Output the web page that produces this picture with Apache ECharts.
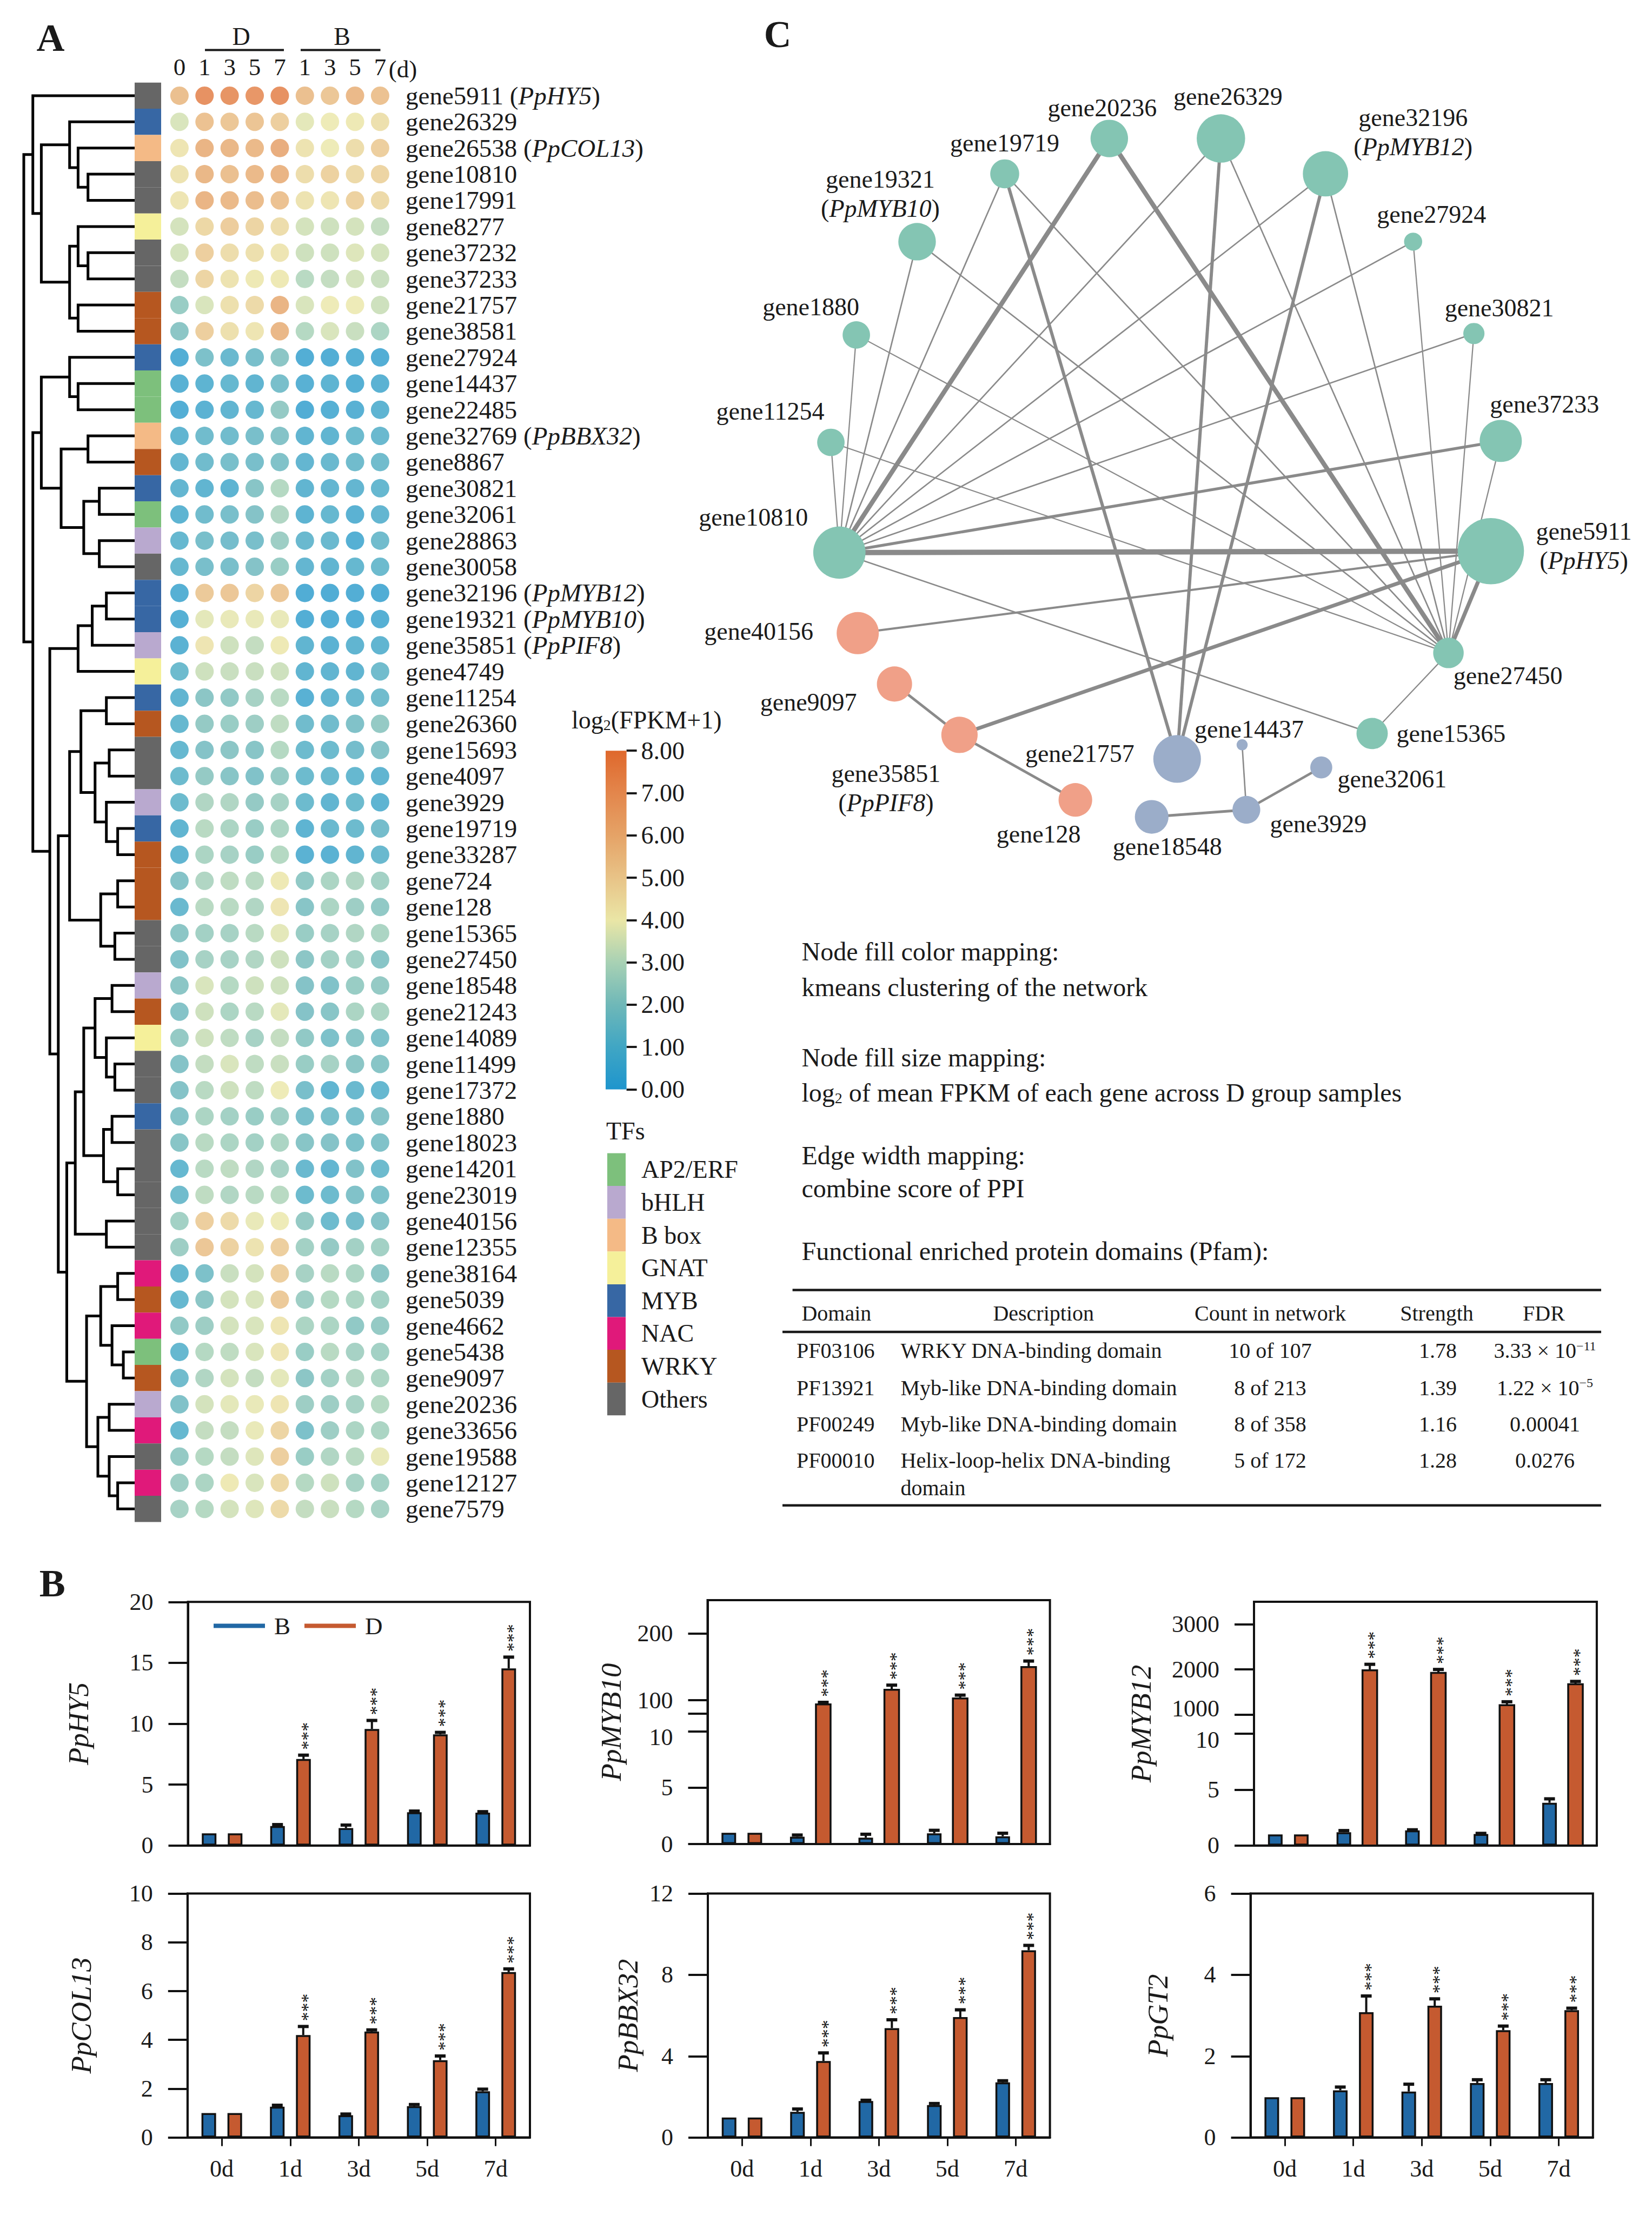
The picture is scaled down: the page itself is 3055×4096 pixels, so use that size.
<!DOCTYPE html>
<html><head><meta charset="utf-8">
<script src="https://cdn.jsdelivr.net/npm/echarts@6.0.0/dist/echarts.min.js"></script>
<style>html,body{margin:0;padding:0;background:#fff;}#chart{width:3055px;height:4096px;}</style>
</head><body><div id="chart"></div>
<script>
// ================= DATA =================
const genes = ['gene5911','gene26329','gene26538','gene10810','gene17991','gene8277','gene37232','gene37233','gene21757','gene38581','gene27924','gene14437','gene22485','gene32769','gene8867','gene30821','gene32061','gene28863','gene30058','gene32196','gene19321','gene35851','gene4749','gene11254','gene26360','gene15693','gene4097','gene3929','gene19719','gene33287','gene724','gene128','gene15365','gene27450','gene18548','gene21243','gene14089','gene11499','gene17372','gene1880','gene18023','gene14201','gene23019','gene40156','gene12355','gene38164','gene5039','gene4662','gene5438','gene9097','gene20236','gene33656','gene19588','gene12127','gene7579'];
const geneAlias = {gene5911:'PpHY5', gene26538:'PpCOL13', gene32769:'PpBBX32', gene32196:'PpMYB12', gene19321:'PpMYB10', gene35851:'PpPIF8'};
const sampleLabels = ['0','1','3','5','7','1','3','5','7'];
// log2(FPKM+1): columns 0d, D1, D3, D5, D7, B1, B3, B5, B7
const expr = [
[5.6,7.5,7.4,7.3,7.5,5.6,5.3,5.8,5.5],
[3.6,5.5,5.3,5.4,5.0,3.8,4.0,4.1,4.4],
[4.2,6.0,5.9,5.8,6.3,4.3,4.0,4.5,5.0],
[4.3,5.9,5.6,5.8,6.0,4.5,4.9,4.6,4.8],
[4.2,6.0,5.8,5.7,5.5,4.3,4.2,4.9,4.6],
[3.5,4.7,5.1,4.8,4.5,3.5,3.4,3.5,3.2],
[3.5,5.0,4.5,4.4,4.2,3.4,3.4,3.7,3.5],
[3.2,4.8,4.3,4.1,4.1,3.0,3.2,3.5,3.3],
[2.3,3.6,4.4,4.6,6.0,3.6,4.0,4.0,3.4],
[2.0,5.0,4.4,4.2,5.9,2.9,3.6,3.3,2.7],
[0.3,1.6,1.1,1.5,2.0,0.3,0.3,0.4,0.3],
[0.5,0.7,1.0,0.8,1.5,0.5,0.7,0.4,0.6],
[0.3,0.6,0.8,1.0,2.2,0.2,0.4,0.5,0.7],
[0.8,1.3,1.3,1.5,1.8,0.8,0.8,1.2,1.1],
[0.9,1.3,1.5,1.5,1.7,0.9,1.1,1.3,1.3],
[0.9,0.8,0.7,1.9,2.9,0.8,0.9,0.9,1.0],
[0.7,1.3,1.5,1.8,2.8,0.7,1.0,0.6,0.9],
[1.0,1.5,1.4,1.5,2.4,1.1,1.1,0.4,1.3],
[1.0,1.5,1.5,1.8,2.3,0.9,0.8,1.0,1.2],
[0.4,5.2,5.3,4.8,5.3,0.2,0.2,0.3,0.2],
[0.4,3.8,3.9,3.9,3.9,0.3,0.3,0.3,0.4],
[0.6,4.2,3.4,3.2,4.1,0.8,0.6,0.8,0.8],
[1.2,3.4,3.3,3.3,3.4,0.8,0.8,0.8,1.3],
[0.8,2.0,2.1,2.6,3.0,0.5,0.8,1.1,1.3],
[1.0,2.2,2.3,2.4,3.1,1.3,1.3,1.7,2.2],
[1.0,1.8,2.0,1.9,2.9,1.2,1.2,1.4,1.8],
[1.2,2.2,1.9,1.7,2.2,1.2,1.1,1.0,0.8],
[1.2,2.8,2.8,2.2,2.6,1.2,0.8,1.2,0.7],
[0.8,3.0,2.7,2.3,2.7,0.7,1.1,1.2,1.4],
[0.8,2.7,2.6,2.3,2.9,0.6,0.6,0.8,1.1],
[1.8,2.8,3.1,3.0,4.1,2.1,2.7,2.8,2.5],
[1.1,3.0,3.0,2.8,4.2,1.9,2.7,2.4,2.1],
[2.0,2.5,2.6,3.0,3.8,2.3,2.6,2.8,2.7],
[1.7,2.6,2.6,2.8,3.4,2.0,2.5,2.5,1.9],
[2.0,3.6,2.9,3.4,3.4,1.8,1.7,2.3,2.2],
[1.8,3.4,2.7,3.0,3.8,1.8,1.9,2.7,2.7],
[2.2,3.4,3.1,2.6,3.2,2.1,1.6,1.9,1.6],
[1.8,3.2,3.6,3.1,3.3,2.3,2.6,2.0,1.9],
[1.8,3.0,3.4,3.1,4.0,1.5,0.8,1.1,1.0],
[1.8,2.7,2.5,2.3,2.4,1.5,1.5,1.5,1.8],
[1.9,3.0,2.7,2.5,2.7,1.9,1.8,1.6,1.7],
[1.0,3.0,3.1,2.8,2.6,1.1,0.9,1.7,1.2],
[1.3,3.1,2.8,3.0,3.0,1.2,1.2,1.7,1.6],
[2.5,5.0,4.6,3.9,4.0,2.2,1.2,1.4,1.8],
[2.4,5.3,4.9,4.3,5.0,2.5,2.2,2.5,2.5],
[1.0,1.6,3.3,3.5,5.0,2.6,3.0,2.7,2.0],
[1.0,2.0,3.5,3.6,5.2,2.4,2.9,2.7,2.5],
[2.1,2.4,3.5,3.6,4.2,2.7,2.7,2.1,2.2],
[1.0,2.9,3.1,3.6,4.2,2.3,3.0,2.6,2.5],
[1.3,2.8,3.5,3.2,3.8,2.0,2.5,2.8,2.7],
[1.7,3.5,3.8,3.9,4.2,2.4,2.4,2.6,2.9],
[1.0,3.2,3.2,3.9,4.8,1.6,2.4,2.7,2.7],
[2.2,2.9,3.2,3.7,5.0,2.3,2.8,3.0,3.9],
[2.4,2.7,4.1,3.6,4.7,2.9,3.4,2.6,2.5],
[2.6,2.9,3.5,3.7,4.6,3.2,3.3,2.9,2.6]
];
const tfNames = ['AP2/ERF','bHLH','B box','GNAT','MYB','NAC','WRKY','Others'];
const tfClass = [7,4,2,7,7,3,7,7,6,6,4,0,0,2,6,4,0,1,7,4,4,1,3,4,6,7,7,1,4,6,6,6,7,7,1,6,3,7,7,4,7,7,7,7,7,5,6,5,0,6,1,5,7,5,7];
// hierarchical clustering: [left, right, mergeHeight], leaves = row index
const treeA = [0, [[1, [2, [3, 4, 33], 40], 46], [[5, [6, 7, 33], 40], [8, 9, 40], 46], 66], 72];
const treeB = [[10, [11, 12, 40], 46], [[13, 14, 33], [[15, 16, 25], [17, 18, 25], 36], 52], 66];
const treeC1 = [[[19, 20, 20], 21, 30], 22, 40];
const treeC2 = [[[[23, 24, 20], [[25, 26, 18], [27, [28, 29, 12], 20], 28], 38], [[30, 31, 12], [32, 33, 14], 24], 46],
  [[[[[34, 35, 16], [36, [37, 38, 14], 20], 28], [[39, 40, 16], [41, 42, 12], 22], 36], [43, 44, 20], 42],
   [[[45, 46, 12], [47, [48, 49, 8], 16], 24], [[50, 51, 18], [52, [53, 54, 12], 18], 26], 34], 48], 54];
const tree = [treeA, [treeB, [treeC1, treeC2, 60], 72], 78.4];

// qRT-PCR relative expression (B)
const days = ['0d','1d','3d','5d','7d'];
const hy5B = [1.0,1.6,1.43,2.73,2.7],      hy5BErr = [0,0.12,0.25,0.1,0.08];
const hy5D = [1.0,7.1,9.57,9.13,14.54],    hy5DErr = [0,0.32,0.7,0.16,0.93];
const myb10B = [1.0,0.65,0.57,0.95,0.69],  myb10BErr = [0,0.15,0.3,0.27,0.27];
const myb10D = [1.0,93.8,115.6,102.6,149.7], myb10DErr = [0,3,7,5,9];
const myb12B = [1.0,1.19,1.36,1.03,3.83],  myb12BErr = [0,0.15,0.05,0.06,0.35];
const myb12D = [1.0,1981,1924,1208,1673],  myb12DErr = [0,133,76,76,62];
const col13B = [1.0,1.26,0.91,1.28,1.89],  col13BErr = [0,0.06,0.05,0.07,0.09];
const col13D = [1.0,4.2,4.34,3.17,6.78],   col13DErr = [0,0.35,0.07,0.17,0.13];
const bbx32B = [0.98,1.26,1.79,1.59,2.71], bbx32BErr = [0,0.14,0.04,0.08,0.08];
const bbx32D = [0.98,3.76,5.38,5.92,9.21], bbx32DErr = [0,0.4,0.41,0.36,0.24];
const gt2B = [0.99,1.16,1.13,1.34,1.34],   gt2BErr = [0,0.08,0.18,0.08,0.08];
const gt2D = [0.99,3.08,3.24,2.64,3.13],   gt2DErr = [0,0.4,0.17,0.1,0.05];
const sigD = ['', '***', '***', '***', '***'];

// PPI network (C)
const netNodes = ['gene20236','gene26329','gene32196','gene19719','gene19321','gene27924','gene1880','gene30821','gene11254','gene37233','gene10810','gene5911','gene40156','gene27450','gene9097','gene35851','gene15365','gene21757','gene14437','gene32061','gene128','gene18548','gene3929'];
const netCluster = [0,0,0,0,0,0,0,0,0,0,0,0,1,0,1,1,0,2,2,2,1,2,2];
const netLog2Mean = [4.1,5.5,5.1,3.0,4.1,1.6,2.8,2.0,2.8,4.7,6.0,7.8,4.7,3.2,3.8,3.95,3.3,5.4,0.7,2.1,3.6,3.6,2.85];
const netEdges = [
['gene10810','gene5911',1.0],['gene10810','gene20236',0.9],['gene20236','gene27450',0.9],
['gene5911','gene27450',0.8],['gene5911','gene35851',0.78],
['gene26329','gene21757',0.7],['gene32196','gene21757',0.7],['gene19719','gene21757',0.7],
['gene10810','gene37233',0.66],['gene5911','gene40156',0.55],
['gene9097','gene35851',0.62],['gene35851','gene128',0.62],['gene18548','gene3929',0.62],['gene3929','gene32061',0.6],['gene3929','gene14437',0.45],
['gene10810','gene11254',0.42],['gene10810','gene1880',0.42],['gene10810','gene19321',0.45],['gene10810','gene19719',0.45],
['gene10810','gene26329',0.45],['gene10810','gene32196',0.45],['gene10810','gene27924',0.45],['gene10810','gene30821',0.45],['gene10810','gene15365',0.45],
['gene27450','gene19321',0.45],['gene27450','gene19719',0.45],['gene27450','gene1880',0.42],['gene27450','gene11254',0.42],
['gene27450','gene26329',0.45],['gene27450','gene32196',0.45],['gene27450','gene27924',0.42],['gene27450','gene30821',0.42],
['gene27450','gene37233',0.42],['gene27450','gene15365',0.42]
];
const notes = ['Node fill color mapping:','kmeans clustering of the network','Node fill size mapping:','log{sub|2} of mean FPKM of each gene across D group samples','Edge width mapping:','combine score of PPI','Functional enriched protein domains (Pfam):'];
const pfamHeader = ['Domain','Description','Count in network','Strength','FDR'];
const pfamId = ['PF03106','PF13921','PF00249','PF00010'];
const pfamDesc = ['WRKY DNA-binding domain','Myb-like DNA-binding domain','Myb-like DNA-binding domain','Helix-loop-helix DNA-binding\ndomain'];
const pfamCount = ['10 of 107','8 of 213','8 of 358','5 of 172'];
const pfamStrength = ['1.78','1.39','1.16','1.28'];
const pfamFDR = ['3.33 × 10{sup|−11}','1.22 × 10{sup|−5}','0.00041','0.0276'];

// ================= STYLE / LAYOUT =================
const FF = 'Liberation Serif';
const INK = '#1a1a1a';
const heatStops = ['#1e95cd','#40a6c4','#6fb8b8','#a8d1b4','#eae6a6','#e8c387','#e5a367','#e3864c','#df682c'];
const tfColors = ['#7dc07c','#b9a9cf','#f4ba86','#f5f09a','#3767a4','#e0197a','#b65720','#666666'];
const clusterColors = ['#84c5b3','#f0a088','#9badc9'];
const BLUE = '#2168a5', ORANGE = '#c55a30';
const netPos = [[785,98],[864,98],[938,123],[711,123],[649,171],[1000,171],[606,237],[1043,236],[588,313],[1062,312],[594,391],[1055,390],[607,448],[1025,462],[633,484],[679,520],[971,519],[833,537],[879,527],[935,543],[761,566],[815,578],[882,573]];
const netLabelOffset = [[-13,-57],[13,-78],[162,-77],[0,-57],[-68,-88],[34,-50],[-84,-52],[47,-47],[-112,-57],[81,-68],[-159,-65],[172,-10],[-183,-3],[110,42],[-159,34],[-136,99],[146,0],[-180,-10],[13,-29],[131,21],[-68,63],[29,55],[133,26]];

const option = {backgroundColor:'#fff', animation:false, textStyle:{fontFamily:FF, color:INK},
  grid:[], xAxis:[], yAxis:[], series:[], graphic:[], visualMap:[]};
function addGrid(g){ option.grid.push(Object.assign({show:false, outerBoundsMode:'none'}, g)); return option.grid.length-1; }
function addX(a){ option.xAxis.push(a); return option.xAxis.length-1; }
function addY(a){ option.yAxis.push(a); return option.yAxis.length-1; }
function addS(s){ option.series.push(s); return option.series.length-1; }
function txt(x, y, text, o){ o = o||{};
  option.graphic.push({type:'text', x, y, silent:true, style:{text, fill:INK, fontFamily:FF, fontSize:o.size||44, fontWeight:o.weight||'normal',
    align:o.align||'left', verticalAlign:o.va||'middle', rich:o.rich}});
}
function line(x1,y1,x2,y2,w){ option.graphic.push({type:'line', silent:true, shape:{x1,y1,x2,y2}, style:{stroke:INK, lineWidth:w}}); }

// ---------- Panel A : heat dot map ----------
const HT = 152.7, HH = 2661.8;
const gHeat = addGrid({left:308.7, top:HT, width:417.4, height:HH});
const hx = addX({type:'category', gridIndex:gHeat, data:sampleLabels, position:'top', axisLine:{show:false}, axisTick:{show:false},
  axisLabel:{fontSize:45, fontFamily:FF, color:INK, margin:6, interval:0}});
const hy = addY({type:'category', gridIndex:gHeat, data:genes, inverse:true, position:'right', axisLine:{show:false}, axisTick:{show:false},
  axisLabel:{fontSize:47, fontFamily:FF, color:INK, margin:24, interval:0, formatter:g => geneAlias[g] ? g+' ({i|'+geneAlias[g]+'})' : g,
    rich:{i:{fontStyle:'italic', fontSize:47, fontFamily:FF, color:INK}}}});
const heatData = [];
expr.forEach((row,i)=>row.forEach((v,j)=>heatData.push([j,i,v])));
const heatIdx = addS({type:'scatter', xAxisIndex:hx, yAxisIndex:hy, symbolSize:34, data:heatData, silent:true});
option.visualMap.push({type:'continuous', show:false, min:0, max:8, dimension:2, seriesIndex:heatIdx, inRange:{color:heatStops}});

// TF class strip
const gTF = addGrid({left:249, top:HT, width:49, height:HH});
const tx = addX({type:'value', gridIndex:gTF, min:0, max:1, show:false});
const ty = addY({type:'category', gridIndex:gTF, data:genes, inverse:true, show:false});
addS({type:'bar', xAxisIndex:tx, yAxisIndex:ty, barWidth:'100%', silent:true,
  data: tfClass.map(c=>({value:1, itemStyle:{color:tfColors[c]}}))});

// dendrogram
const dendroSegs = [];
function walk(n){ if (typeof n === 'number') return {y:n, h:0};
  const a = walk(n[0]), b = walk(n[1]), h = n[2];
  dendroSegs.push({coords:[[a.h,a.y],[h,a.y],[h,b.y],[b.h,b.y]]});
  return {y:(a.y+b.y)/2, h}; }
walk(tree);
const gDen = addGrid({left:44, top:HT, width:205, height:HH});
const dx = addX({type:'value', gridIndex:gDen, min:0, max:78.4, inverse:true, show:false});
const dy = addY({type:'value', gridIndex:gDen, min:-0.5, max:genes.length-0.5, inverse:true, show:false});
addS({type:'lines', coordinateSystem:'cartesian2d', xAxisIndex:dx, yAxisIndex:dy, polyline:true, silent:true,
  data:dendroSegs, lineStyle:{color:'#000', width:5, opacity:1}});

// color bar
const gCB = addGrid({left:1120, top:1388.2, width:38.6, height:626.3});
const cbx = addX({type:'category', gridIndex:gCB, data:['c'], show:false});
const cby = addY({type:'value', gridIndex:gCB, min:0, max:8, interval:1, position:'right', axisLine:{show:false},
  axisTick:{show:true, length:19, lineStyle:{color:INK, width:4}}, splitLine:{show:false},
  axisLabel:{fontSize:46, fontFamily:FF, color:INK, margin:27, formatter:v=>v.toFixed(2)}});
addS({type:'bar', xAxisIndex:cbx, yAxisIndex:cby, barWidth:'100%', silent:true, data:[8],
  itemStyle:{color:new echarts.graphic.LinearGradient(0,1,0,0, heatStops.map((c,i)=>({offset:i/(heatStops.length-1), color:c})))}});
txt(1057, 1331, 'log{sub|2}(FPKM+1)', {size:46, rich:{sub:{fontSize:28, fontFamily:FF, fill:INK, verticalAlign:'bottom', padding:[14,0,0,0]}}});
txt(1121, 2091, 'TFs', {size:46});
tfNames.forEach((n,i)=>{
  option.graphic.push({type:'rect', silent:true, shape:{x:1123, y:2132.5+i*60.6, width:34, height:60.6}, style:{fill:tfColors[i]}});
  txt(1186, 2132.5+i*60.6+30.3, n, {size:46});
});
// column group headers
txt(446, 67, 'D', {size:46, align:'center'}); line(379, 92.5, 525, 92.5, 4);
txt(632.6, 67, 'B', {size:46, align:'center'}); line(556, 92.5, 703.5, 92.5, 4);
txt(745, 128, '(d)', {size:45, align:'center'});
txt(93.6, 69.5, 'A', {size:72, weight:'bold', align:'center'});

// ---------- Panel C : network ----------
const gNet = addGrid({left:1254.3, top:0, width:1800.6, height:1620.3});
const nx = addX({type:'value', gridIndex:gNet, min:480, max:1169, show:false});
const ny = addY({type:'value', gridIndex:gNet, min:0, max:620, inverse:true, show:false});
const nodeData = netNodes.map((n,i)=>{
  const al = geneAlias[n];
  return {name:n, value:netPos[i], symbolSize:(4+5.5*netLog2Mean[i])*2.613,
    itemStyle:{color:clusterColors[netCluster[i]]},
    label:{show:true, position:'inside', offset:netLabelOffset[i], align:'center',
      formatter: al ? n+'\n({i|'+al+'})' : n, lineHeight:54,
      rich:{i:{fontStyle:'italic', fontSize:46, fontFamily:FF, color:INK, lineHeight:54}}}};
});
addS({type:'graph', coordinateSystem:'cartesian2d', xAxisIndex:nx, yAxisIndex:ny, silent:true, layout:'none',
  data:nodeData, edgeSymbol:['none','none'],
  links: netEdges.map(e=>({source:e[0], target:e[1], lineStyle:{width:2+(e[2]-0.4)*13, color:'#8a8a8a', opacity:1, curveness:0}})),
  label:{fontSize:46, fontFamily:FF, color:INK}, emphasis:{disabled:true}});
txt(1438, 63.7, 'C', {size:70, weight:'bold', align:'center'});

// notes and Pfam table
const noteY = [1759.7, 1825, 1955, 2020, 2136, 2197.5, 2313];
notes.forEach((t,i)=>txt(1482.5, noteY[i], t, {size:48, rich:{sub:{fontSize:28, fontFamily:FF, fill:INK, verticalAlign:'bottom', padding:[16,0,0,0]}}}));
line(1465.6, 2385.6, 2961, 2385.6, 4.5);
line(1447, 2463, 2961, 2463, 4.5);
line(1447, 2783.8, 2961, 2783.8, 4.5);
const colX = [1482.4, 1929.7, 2349, 2657, 2855];
pfamHeader.forEach((h,i)=>txt(colX[i], 2428.9, h, {size:40, align: i===0 ? 'left' : 'center'}));
const rowY = [2497.6, 2566.4, 2633, 2700.4];
pfamId.forEach((id,r)=>{
  const y = rowY[r];
  txt(1473, y, id, {size:40});
  option.graphic.push({type:'text', x:1665.5, y:y-25, silent:true, style:{text:pfamDesc[r], fill:INK, fontFamily:FF, fontSize:40, lineHeight:50.5, verticalAlign:'top'}});
  txt(2349, y, pfamCount[r], {size:40, align:'center'});
  txt(2659, y, pfamStrength[r], {size:40, align:'center'});
  txt(2857, y, pfamFDR[r], {size:40, align:'center', rich:{sup:{fontSize:24, fontFamily:FF, fill:INK, verticalAlign:'top', padding:[0,0,18,0]}}});
});

// ---------- Panel B : qRT-PCR bars ----------
txt(96.7, 2927.5, 'B', {size:72, weight:'bold', align:'center'});
const BAR_W = 27, BAR_OFF = 24, STAR_FS = 34;
function errRender(params, api){
  const c = api.value(0), v = api.value(1), e = api.value(2), side = api.value(3), st = api.value(4);
  const p0 = api.coord([c, v]), p1 = api.coord([c, v + e]);
  const x = p0[0] + (side ? BAR_OFF : -BAR_OFF);
  const ch = [];
  if (e > 0) {
    ch.push({type:'line', shape:{x1:x, y1:p0[1], x2:x, y2:p1[1]}, style:{stroke:'#111', lineWidth:4}});
    ch.push({type:'line', shape:{x1:x-10, y1:p1[1], x2:x+10, y2:p1[1]}, style:{stroke:'#111', lineWidth:6}});
  }
  if (st) ch.push({type:'text', x:x + STAR_FS*0.22, y:p1[1]-10, rotation:Math.PI/2,
    style:{text:'***', fill:'#111', fontFamily:FF, fontSize:STAR_FS, align:'left', verticalAlign:'middle'}});
  return {type:'group', children:ch};
}
function makeBrokenBarRender(bottomY){
  return function(params, api){
    const p = api.coord([api.value(0), api.value(1)]);
    const x = p[0] + BAR_OFF - BAR_W/2;
    return {type:'rect', shape:{x:x, y:p[1], width:BAR_W, height:bottomY - p[1]}, style:{fill:ORANGE, stroke:'#111', lineWidth:3.5}};
  };
}
const charts = [
 {name:'PpHY5', B:hy5B, Be:hy5BErr, D:hy5D, De:hy5DErr, box:[347.5,2962.3,980,3412.8], y:{min:0,max:20,interval:5}, gap:176, xl:false},
 {name:'PpMYB10', B:myb10B, Be:myb10BErr, D:myb10D, De:myb10DErr, box:[1308.5,2959,1941.6,3410], split:3168.7,
   lo:{max:11.6, ticks:[0,5,10]}, hi:{min:80, max:250, ticks:[80,100,200], labels:[100,200]}, gap:152, xl:false},
 {name:'PpMYB12', B:myb12B, Be:myb12BErr, D:myb12D, De:myb12DErr, box:[2319,2962,2952.9,3412.8], split:3170.6,
   lo:{max:11.72, ticks:[0,5,10]}, hi:{min:1000, max:3500, ticks:[1000,2000,3000], labels:[1000,2000,3000]}, gap:183, xl:false},
 {name:'PpCOL13', B:col13B, Be:col13BErr, D:col13D, De:col13DErr, box:[346.8,3501.6,980,3952.6], y:{min:0,max:10,interval:2}, gap:170, xl:true},
 {name:'PpBBX32', B:bbx32B, Be:bbx32BErr, D:bbx32D, De:bbx32DErr, box:[1309,3501.6,1941.6,3952.6], y:{min:0,max:12,interval:4}, gap:122, xl:true},
 {name:'PpGT2', B:gt2B, Be:gt2BErr, D:gt2D, De:gt2DErr, box:[2312.6,3501.6,2945.8,3952.6], y:{min:0,max:6,interval:2}, gap:145, xl:true}
];
const axisLineStyle = {color:'#111', width:4};
function dataAxes(g, yOpt, showBottom, xl, tickVals, labelVals, labelFmt){
  const xi = addX({type:'category', gridIndex:g, data:days,
    axisLine:{show:showBottom, lineStyle:axisLineStyle},
    axisTick:{show:xl, alignWithLabel:true, length:16, lineStyle:{color:'#111', width:3}},
    axisLabel:{show:xl, fontSize:44, fontFamily:FF, color:INK, margin:36}});
  const ya = Object.assign({type:'value', gridIndex:g, splitLine:{show:false},
    axisLine:{show:true, lineStyle:axisLineStyle},
    axisTick:{show:true, length:36, lineStyle:{color:'#111', width:4}},
    axisLabel:{fontSize:44, fontFamily:FF, color:INK, margin:64, formatter: labelFmt || (v => String(v)),
      rich:{up:{fontSize:44, fontFamily:FF, color:INK, padding:[0,0,22,0]}, dn:{fontSize:44, fontFamily:FF, color:INK, padding:[22,0,0,0]}}}}, yOpt);
  if (tickVals) { ya.axisTick.customValues = tickVals; ya.axisLabel.customValues = labelVals; }
  const yi = addY(ya);
  return [xi, yi];
}
const barCommon = {barWidth:BAR_W, barGap:'78%', silent:true};
charts.forEach(c=>{
  const [L,T,R,Bm] = c.box;
  // frame with axis title
  const gf = addGrid({left:L, top:T, width:R-L, height:Bm-T, show:true, borderColor:'#111', borderWidth:4});
  addX({type:'category', gridIndex:gf, data:days, show:false});
  addY({type:'value', gridIndex:gf, min:0, max:1, axisLine:{show:false}, axisTick:{show:false}, axisLabel:{show:false}, splitLine:{show:false},
    name:c.name, nameLocation:'middle', nameGap:c.gap, nameRotate:90, nameTextStyle:{fontStyle:'italic', fontSize:53, color:INK, fontFamily:FF}});
  const errB = c.B.map((v,i)=>[i, v, c.Be[i], 0, 0]);
  const errD = c.D.map((v,i)=>[i, v, c.De[i], 1, sigD[i] ? 1 : 0]);
  if (!c.split) {
    const g = addGrid({left:L, top:T, width:R-L, height:Bm-T});
    const [xi, yi] = dataAxes(g, c.y, true, c.xl);
    addS(Object.assign({type:'bar', name:'B', xAxisIndex:xi, yAxisIndex:yi, data:c.B, itemStyle:{color:BLUE, borderColor:'#111', borderWidth:3.5}}, barCommon));
    addS(Object.assign({type:'bar', name:'D', xAxisIndex:xi, yAxisIndex:yi, data:c.D, itemStyle:{color:ORANGE, borderColor:'#111', borderWidth:3.5}}, barCommon));
    addS({type:'custom', xAxisIndex:xi, yAxisIndex:yi, renderItem:errRender, data:errB.concat(errD), silent:true, z:5});
  } else {
    // lower segment (0 .. 10)
    const gl = addGrid({left:L, top:c.split, width:R-L, height:Bm-c.split});
    const [xl_, yl_] = dataAxes(gl, {min:0, max:c.lo.max}, true, c.xl, c.lo.ticks, c.lo.ticks, v => v === 10 ? '{dn|10}' : String(v));
    addS(Object.assign({type:'bar', name:'B', xAxisIndex:xl_, yAxisIndex:yl_, data:c.B, itemStyle:{color:BLUE, borderColor:'#111', borderWidth:3.5}}, barCommon));
    addS(Object.assign({type:'bar', name:'D', xAxisIndex:xl_, yAxisIndex:yl_, data:c.D.map(v => v < c.lo.max ? v : '-'), itemStyle:{color:ORANGE, borderColor:'#111', borderWidth:3.5}}, barCommon));
    addS({type:'custom', xAxisIndex:xl_, yAxisIndex:yl_, renderItem:errRender, silent:true, z:5,
      data: errB.concat(errD.filter(d=>d[1]+d[2] < c.lo.max))});
    // upper segment (after the axis break)
    const gu = addGrid({left:L, top:T, width:R-L, height:c.split-T});
    const [xu, yu] = dataAxes(gu, {min:c.hi.min, max:c.hi.max}, false, false, c.hi.ticks, c.hi.labels,
      v => v === c.hi.min ? '{up|'+v+'}' : String(v));
    addS({type:'custom', xAxisIndex:xu, yAxisIndex:yu, renderItem:makeBrokenBarRender(Bm), silent:true, z:2, clip:false,
      data: c.D.map((v,i)=>[i, v]).filter(d=>d[1] >= c.hi.min)});
    addS({type:'custom', xAxisIndex:xu, yAxisIndex:yu, renderItem:errRender, silent:true, z:5,
      data: errD.filter(d=>d[1] >= c.hi.min)});
  }
});
option.legend = {data:['B','D'], left:390, top:2979, itemWidth:95, itemHeight:8, itemGap:26, icon:'rect', selectedMode:false,
  itemStyle:{borderWidth:0}, textStyle:{fontSize:45, color:INK, fontFamily:FF, padding:[0,0,0,12]}};

const chart = echarts.init(document.getElementById('chart'), null, {renderer:'svg', width:3055, height:4096});
chart.setOption(option);
</script>
</body></html>
